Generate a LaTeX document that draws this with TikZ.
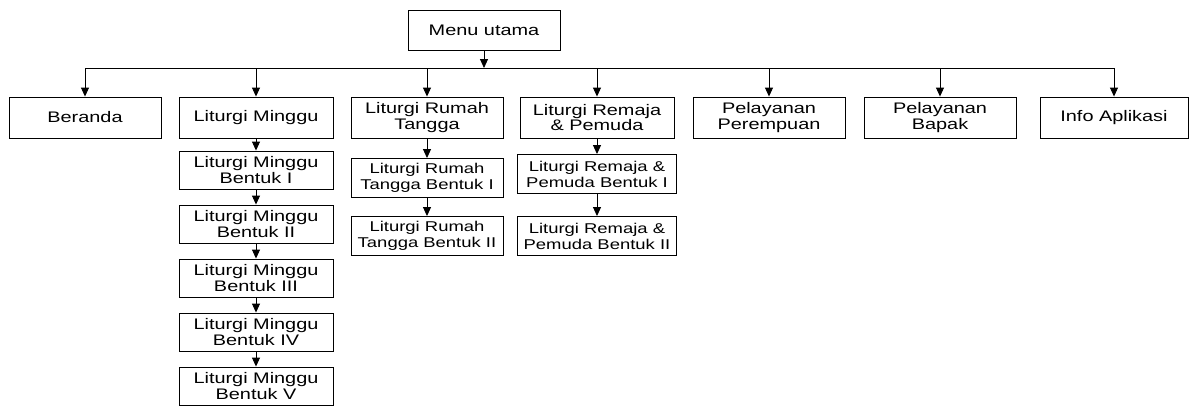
\documentclass[tikz,border=0pt]{standalone}
\usepackage{fontspec}
\setmainfont{Liberation Sans}[FakeStretch=1.3]
\usetikzlibrary{arrows.meta}
\begin{document}
\begin{tikzpicture}[x=1pt,y=-1pt,
  box/.style={draw, line width=0.9pt, minimum width=152pt, minimum height=41pt, inner sep=0pt, align=center, font=\fontsize{15.3}{15.5}\selectfont},
  lbox/.style={box, minimum width=154pt, minimum height=38pt, font=\fontsize{15.3}{16.5}\selectfont},
  sbox/.style={box, minimum height=39pt, font=\fontsize{14.2}{16}\selectfont},
  arr/.style={-{Triangle[length=9pt,width=8pt]}, line width=0.9pt}]
\useasboundingbox (0,0) rectangle (1189,405);
% root
\node[box, minimum height=40pt] (menu) at (484,30) {Menu utama};
% top row
\node[box] (ber) at (85,117.5) {Beranda};
\node[box, minimum width=154pt] (lm) at (256,117.5) {Liturgi Minggu};
\node[box] (rt) at (427,117.5) {Liturgi Rumah\\Tangga};
\node[box, minimum width=154pt] (rp) at (597,117.5) {Liturgi Remaja\\\& Pemuda};
\node[box] (pp) at (769,117.5) {Pelayanan\\Perempuan};
\node[box] (pb) at (940,117.5) {Pelayanan\\Bapak};
\node[box, minimum width=148pt] (info) at (1114,117.5) {Info Aplikasi};
% bus
\coordinate (bus) at (484,68);
\coordinate (busl) at (ber |- bus);
\coordinate (busr) at (info |- bus);
\draw[arr] (menu) -- (bus);
\draw[line width=0.9pt] (busl) -- (busr);
\foreach \n in {ber,lm,rt,rp,pp,pb,info}
  \draw[arr] (\n |- bus) -- (\n);
% Liturgi Minggu column
\node[lbox] (lm1) at (256,170) {Liturgi Minggu\\Bentuk I};
\node[lbox] (lm2) at (256,224) {Liturgi Minggu\\Bentuk II};
\node[lbox] (lm3) at (256,278) {Liturgi Minggu\\Bentuk III};
\node[lbox] (lm4) at (256,332) {Liturgi Minggu\\Bentuk IV};
\node[lbox] (lm5) at (256,386) {Liturgi Minggu\\Bentuk V};
\draw[arr] (lm) -- (lm1);
\draw[arr] (lm1) -- (lm2);
\draw[arr] (lm2) -- (lm3);
\draw[arr] (lm3) -- (lm4);
\draw[arr] (lm4) -- (lm5);
% Rumah Tangga column
\node[sbox] (rt1) at (427,178) {Liturgi Rumah\\Tangga Bentuk I};
\node[sbox] (rt2) at (427,236) {Liturgi Rumah\\Tangga Bentuk II};
\draw[arr] (rt) -- (rt1);
\draw[arr] (rt1) -- (rt2);
% Remaja & Pemuda column
\node[sbox, minimum width=159pt] (rp1) at (597,174) {Liturgi Remaja \&\\Pemuda Bentuk I};
\node[sbox, minimum width=159pt] (rp2) at (597,236) {Liturgi Remaja \&\\Pemuda Bentuk II};
\draw[arr] (rp) -- (rp1);
\draw[arr] (rp1) -- (rp2);
\end{tikzpicture}
\end{document}
